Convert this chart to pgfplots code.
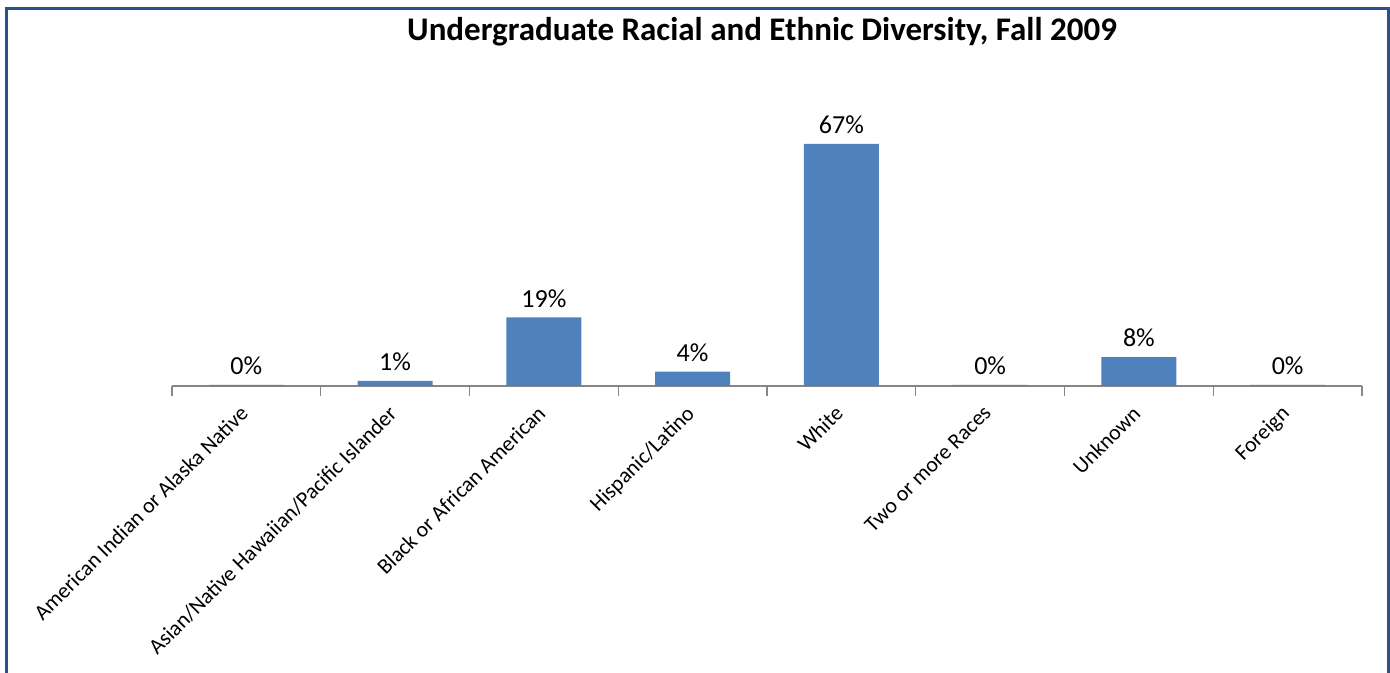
\documentclass[border=0pt]{standalone}
\usepackage{pgfplots}
\pgfplotsset{compat=1.18}
\usepackage{fontspec}
\setmainfont{Carlito}
\definecolor{barblue}{HTML}{4F81BD}
\definecolor{framecol}{HTML}{2B5189}
\definecolor{axgray}{HTML}{868686}
\begin{document}
\begin{tikzpicture}
\useasboundingbox (0,0) rectangle (695pt,336.5pt);
\draw[framecol, line width=1.2pt] (3.25pt,-1pt) -- (3.25pt,332.25pt) -- (694.25pt,332.25pt) -- (694.25pt,-1pt);
\node[anchor=base, font=\fontsize{16.5}{19}\selectfont\bfseries, inner sep=0pt] at (381pt,316.35pt) {Undergraduate Racial and Ethnic Diversity, Fall 2009};
\begin{axis}[
  at={(86pt,143.5pt)}, anchor=south west,
  scale only axis, width=595pt, height=144.5pt,
  xmin=-0.5, xmax=7.5, ymin=0, ymax=80,
  axis x line*=bottom, axis y line=none,
  x axis line style={axgray, line width=0.6pt, -},
  xtick={0,...,7},
  xticklabels={American Indian or Alaska Native, Asian/Native Hawaiian/Pacific Islander, Black or African American, Hispanic/Latino, White, Two or more Races, Unknown, Foreign},
  major tick length=0pt,
  minor xtick={-0.5,0.5,...,7.5},
  minor tick length=5pt,
  tick align=outside,
  tick style={axgray, line width=0.6pt},
  xticklabel style={rotate=45, anchor=north east, font=\fontsize{10.9}{13}\selectfont, inner xsep=9pt, inner ysep=3.5pt},
  ybar, bar width=37.5pt,
  /pgf/number format/assume math mode=true,
  nodes near coords={\pgfmathprintnumber[fixed,precision=0,assume math mode=true]{\pgfplotspointmeta}\%},
  nodes near coords style={font=\fontsize{13}{15}\selectfont, text=black, yshift=1.5pt},
  point meta=y,
  clip=false,
]
\addplot[fill=barblue, draw=none] coordinates {(0,0.3) (1,1.4) (2,19) (3,4) (4,67) (5,0.3) (6,8) (7,0.3)};
\end{axis}
\end{tikzpicture}
\end{document}
